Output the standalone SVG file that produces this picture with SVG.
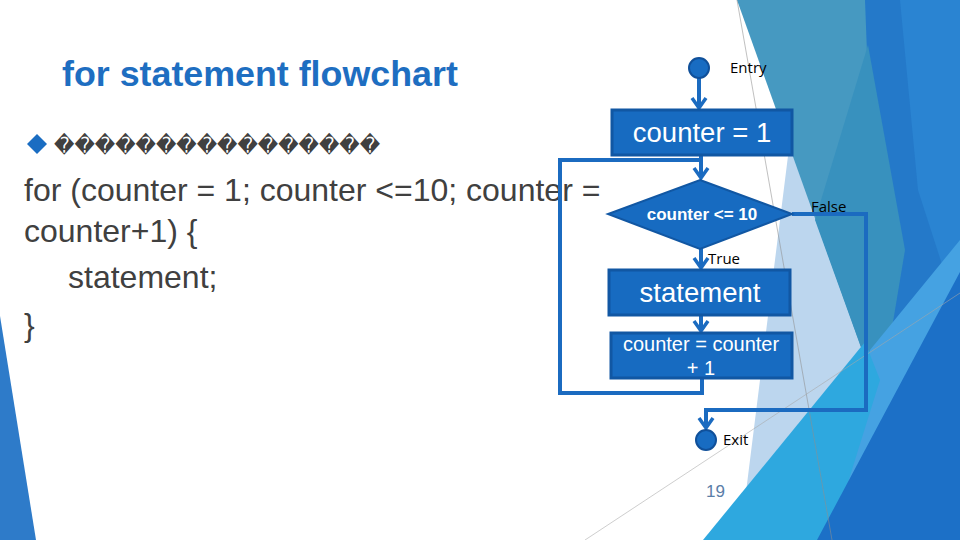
<svg xmlns="http://www.w3.org/2000/svg" width="960" height="540" viewBox="0 0 960 540">
<style>
.code{font-family:"Liberation Sans",Arial,sans-serif;font-size:32px;fill:#404040}
.box{fill:#176BC1;stroke:#1157A3;stroke-width:3}
.bt{font-family:"Liberation Sans",Arial,sans-serif;fill:#ffffff;text-anchor:middle}
.lbl{font-family:"Open Sans","Liberation Sans",sans-serif;font-size:15px;fill:#000000}
.conn{fill:none;stroke:#1B6BC0;stroke-width:4}
.term{fill:#186CC2;stroke:#10509A;stroke-width:2}
</style>
<defs>
<marker id="arr" markerUnits="userSpaceOnUse" markerWidth="18" markerHeight="18" viewBox="0 0 18 18" refX="13" refY="9" orient="auto">
<path d="M3,2 L13,9 L3,16" fill="none" stroke="#1B6BC0" stroke-width="3.5"/>
</marker>
</defs>
<rect width="960" height="540" fill="#ffffff"/>
<g id="background">
<polygon points="0,316 36,540 0,540" fill="#2E7BC9"/>
<polygon points="860,0 960,0 960,540 800,540 880,410" fill="#2479C9"/>
<polygon points="900,0 960,0 960,320 918,190" fill="#2A84D2"/>
<polygon points="790,140 900,420 740,540" fill="#BCD6EE"/>
<polygon points="737,0 865,0 880,400" fill="#4699C1"/>
<polygon points="868,45 905,250 880,400 815,220" fill="#3891BE"/>
<polygon points="870,350 960,240 960,540 817,540" fill="#45A2E2"/>
<polygon points="703,540 865,342 880,380 830,540" fill="#2EA8DF"/>
<polygon points="817,540 913,360 960,272 960,540" fill="#1C70C7"/>
<line x1="737" y1="0" x2="832" y2="540" stroke="#8f8f8f" stroke-width="0.8" opacity="0.7"/>
<line x1="585" y1="540" x2="960" y2="293" stroke="#a8a8a8" stroke-width="0.8" opacity="0.7"/>
</g>
<g id="title">
<text x="62" y="86" font-family="Liberation Sans, Arial, sans-serif" font-size="35.8" font-weight="bold" fill="#1E6EC1">for statement flowchart</text>
</g>
<g id="body">
<polygon points="37,134 47,144 37,154 27,144" fill="#1A6DC2"/>
<text x="54" y="153" font-family="DejaVu Sans, sans-serif" font-size="22" fill="#404040" textLength="326" lengthAdjust="spacingAndGlyphs">����������������</text>
<text class="code" x="24" y="201">for (counter = 1; counter &lt;=10; counter =</text>
<text class="code" x="24" y="242">counter+1) {</text>
<text class="code" x="68" y="288">statement;</text>
<text class="code" x="24" y="336">}</text>
</g>
<g id="connectors">
<line class="conn" x1="699" y1="78" x2="699" y2="108" marker-end="url(#arr)"/>
<line class="conn" x1="701" y1="156" x2="701" y2="178" marker-end="url(#arr)"/>
<polyline class="conn" points="702,378 702,393 560,393 560,160 701,160"/>
<line class="conn" x1="701" y1="249" x2="701" y2="268" marker-end="url(#arr)"/>
<line class="conn" x1="701" y1="315" x2="701" y2="331" marker-end="url(#arr)"/>
<polyline class="conn" points="792,214 866,214 866,410 706,410 706,428" marker-end="url(#arr)"/>
</g>
<g id="entry">
<circle class="term" cx="699" cy="68" r="10"/>
<text class="lbl" x="730" y="73">Entry</text>
</g>
<g id="init">
<rect class="box" x="612" y="110" width="180" height="45"/>
<text class="bt" x="702" y="142" font-size="27.5">counter = 1</text>
</g>
<g id="condition">
<polygon points="700,180 792,214 700,249 608,214" fill="#176BC1" stroke="#1157A3" stroke-width="2"/>
<text class="bt" x="702" y="220" font-size="17" font-weight="bold">counter &lt;= 10</text>
<text class="lbl" x="811" y="212" font-size="13.5">False</text>
<text class="lbl" x="708" y="264" font-size="13.5">True</text>
</g>
<g id="statement">
<rect class="box" x="609" y="270" width="181" height="45"/>
<text class="bt" x="700" y="302" font-size="27.5">statement</text>
</g>
<g id="increment">
<rect class="box" x="611" y="333" width="181" height="45"/>
<text class="bt" x="701" y="351" font-size="20">counter = counter</text>
<text class="bt" x="701" y="375" font-size="20">+ 1</text>
</g>
<g id="exit">
<circle class="term" cx="706" cy="440" r="10"/>
<text class="lbl" x="723" y="445">Exit</text>
</g>
<g id="pagenum">
<text x="706" y="497" font-family="Liberation Sans, Arial, sans-serif" font-size="17" fill="#5A7EA8">19</text>
</g>
</svg>
